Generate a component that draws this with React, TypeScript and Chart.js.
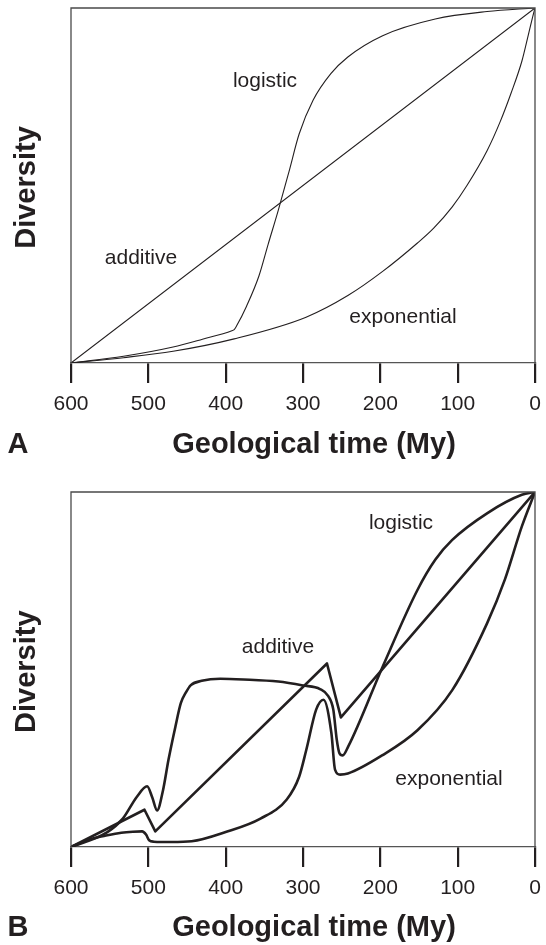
import React, { useEffect, useRef } from 'react';
import { Chart, registerables } from 'chart.js';

Chart.register(...registerables);

// ---------- data ----------
const TIME_TICKS = [600, 500, 400, 300, 200, 100, 0];

// Panel A
const A_ADDITIVE_TIME = [600, 0];
const A_ADDITIVE_DIV = [0, 1];

const A_LOGISTIC_TIME = [600, 532, 468, 430, 392, 389, 386, 373, 357, 345, 332, 318, 305, 287, 264, 242, 197, 129, 62, 0];
const A_LOGISTIC_DIV = [0, 0.019, 0.045, 0.067, 0.091, 0.094, 0.104, 0.16, 0.245, 0.335, 0.43, 0.54, 0.645, 0.74, 0.815, 0.862, 0.922, 0.969, 0.99, 1];

const A_EXPONENTIAL_TIME = [600, 532, 468, 389, 296, 242, 197, 152, 131, 107, 88, 62, 45, 31, 17, 8, 3, 0];
const A_EXPONENTIAL_DIV = [0, 0.015, 0.033, 0.068, 0.129, 0.19, 0.258, 0.338, 0.38, 0.44, 0.5, 0.598, 0.68, 0.76, 0.85, 0.93, 0.975, 1];

// Panel B
const B_ADDITIVE_TIME = [600, 505, 491, 269, 251, 0];
const B_ADDITIVE_DIV = [0, 0.105, 0.044, 0.517, 0.365, 1];

const B_LOGISTIC_TIME = [600, 553, 533, 515, 501.5, 495, 488.7, 481, 474, 465, 458, 451, 445, 431, 407, 377, 332, 300, 278, 267.3, 260.8, 256.4, 253, 248.7, 241.3, 197, 152, 129, 107, 62, 17, 0];
const B_LOGISTIC_DIV = [0, 0.042, 0.08, 0.141, 0.171, 0.14, 0.103, 0.16, 0.245, 0.339, 0.405, 0.437, 0.456, 0.468, 0.474, 0.472, 0.466, 0.455, 0.445, 0.425, 0.387, 0.303, 0.265, 0.258, 0.284, 0.508, 0.724, 0.809, 0.865, 0.94, 0.992, 1];

const B_EXPONENTIAL_TIME = [600, 575, 553, 535, 520, 508, 503, 499, 493, 470, 444, 400, 355, 321, 305, 295.7, 283, 273.5, 263.3, 258.6, 252, 242, 197, 152, 107, 62, 39, 17, 0];
const B_EXPONENTIAL_DIV = [0, 0.022, 0.033, 0.04, 0.043, 0.044, 0.035, 0.019, 0.015, 0.014, 0.016, 0.042, 0.08, 0.134, 0.198, 0.274, 0.387, 0.415, 0.321, 0.218, 0.204, 0.207, 0.259, 0.329, 0.442, 0.63, 0.753, 0.903, 1];

const SERIES_NAMES = ['additive', 'logistic', 'exponential'];

// ---------- styling ----------
const DARK = '#231f20';
const FAMILY = "'Liberation Sans', Arial, Helvetica, sans-serif";

const pts = (xs: number[], ys: number[]) => xs.map((x, i) => ({ x, y: ys[i] }));

type TextItem = { text: string; x: number; y: number };

type PanelOpts = {
  height: number;
  top: number;
  bottom: number; // y of x axis inside canvas
  lineWidth: number;
  letter: string;
  titleBaseline: number;
  yTitleCenter: number;
  annotations: TextItem[];
};

function buildConfig(series: { x: number; y: number }[][], smooth: boolean[], o: PanelOpts): any {
  const framePlugin = {
    id: 'frameAndText',
    afterDraw(chart: any) {
      const { ctx, chartArea } = chart;
      const { left, right, top, bottom } = chartArea;
      ctx.save();
      // frame: left, top, right
      ctx.strokeStyle = '#4a4a4a';
      ctx.lineWidth = 1.3;
      ctx.beginPath();
      ctx.moveTo(left, bottom);
      ctx.lineTo(left, top);
      ctx.lineTo(right, top);
      ctx.lineTo(right, bottom);
      ctx.stroke();

      ctx.fillStyle = DARK;
      // curve annotations
      ctx.font = `21px ${FAMILY}`;
      ctx.textAlign = 'center';
      ctx.textBaseline = 'middle';
      o.annotations.forEach((a) => ctx.fillText(a.text, a.x, a.y));

      // axis titles
      ctx.font = `bold 29px ${FAMILY}`;
      ctx.textBaseline = 'alphabetic';
      ctx.textAlign = 'center';
      ctx.fillText('Geological time (My)', 314, o.titleBaseline);
      ctx.fillText(o.letter, 18, o.titleBaseline);

      ctx.translate(35, o.yTitleCenter);
      ctx.rotate(-Math.PI / 2);
      ctx.fillText('Diversity', 0, 0);
      ctx.restore();
    },
  };

  return {
    type: 'line',
    data: {
      datasets: series.map((data, i) => ({
        label: SERIES_NAMES[i],
        data,
        borderColor: DARK,
        borderWidth: o.lineWidth,
        pointRadius: 0,
        fill: false,
        tension: 0,
        cubicInterpolationMode: smooth[i] ? 'monotone' : 'default',
        borderJoinStyle: 'round',
        borderCapStyle: 'round',
      })),
    },
    options: {
      animation: false,
      responsive: false,
      maintainAspectRatio: false,
      devicePixelRatio: 1,
      layout: { padding: { left: 71, right: 11, top: o.top, bottom: 0 } },
      plugins: {
        legend: { display: false },
        tooltip: { enabled: false },
        title: { display: false },
      },
      scales: {
        x: {
          type: 'linear',
          reverse: true,
          min: 0,
          max: 600,
          afterBuildTicks: (s: any) => {
            s.ticks = TIME_TICKS.map((v) => ({ value: v }));
          },
          afterFit: (s: any) => {
            s.height = o.height - o.bottom;
            s.paddingLeft = 0;
            s.paddingRight = 0;
          },
          ticks: {
            autoSkip: false,
            maxRotation: 0,
            padding: 9,
            color: DARK,
            font: { family: FAMILY, size: 21 },
          },
          grid: {
            drawOnChartArea: false,
            drawTicks: true,
            tickLength: 20,
            lineWidth: 2.2,
            color: DARK,
          },
          border: { display: true, color: '#555555', width: 1.3 },
        },
        y: { display: false, min: 0, max: 1 },
      },
    },
    plugins: [framePlugin],
  };
}

function Panel(props: { series: { x: number; y: number }[][]; smooth: boolean[]; opts: PanelOpts; style: React.CSSProperties }) {
  const ref = useRef<HTMLCanvasElement | null>(null);
  useEffect(() => {
    if (!ref.current) return;
    const chart = new Chart(ref.current, buildConfig(props.series, props.smooth, props.opts));
    return () => chart.destroy();
  }, []);
  return <canvas ref={ref} width={546} height={props.opts.height} style={{ position: 'absolute', left: 0, width: 546, height: props.opts.height, display: 'block', ...props.style }} />;
}

export default function App() {
  const seriesA = [pts(A_ADDITIVE_TIME, A_ADDITIVE_DIV), pts(A_LOGISTIC_TIME, A_LOGISTIC_DIV), pts(A_EXPONENTIAL_TIME, A_EXPONENTIAL_DIV)];
  const seriesB = [pts(B_ADDITIVE_TIME, B_ADDITIVE_DIV), pts(B_LOGISTIC_TIME, B_LOGISTIC_DIV), pts(B_EXPONENTIAL_TIME, B_EXPONENTIAL_DIV)];

  const optsA: PanelOpts = {
    height: 470,
    top: 8,
    bottom: 363,
    lineWidth: 1.1,
    letter: 'A',
    titleBaseline: 453,
    yTitleCenter: 187.5,
    annotations: [
      { text: 'logistic', x: 265, y: 81 },
      { text: 'additive', x: 141, y: 258 },
      { text: 'exponential', x: 403, y: 317 },
    ],
  };
  const optsB: PanelOpts = {
    height: 475,
    top: 22,
    bottom: 377,
    lineWidth: 2.6,
    letter: 'B',
    titleBaseline: 466,
    yTitleCenter: 201.7,
    annotations: [
      { text: 'logistic', x: 401, y: 53 },
      { text: 'additive', x: 278, y: 177 },
      { text: 'exponential', x: 449, y: 309 },
    ],
  };

  return (
    <div style={{ position: 'absolute', left: 0, top: 0, width: 546, height: 945, background: '#fff' }}>
      <Panel series={seriesA} smooth={[false, true, true]} opts={optsA} style={{ top: 0 }} />
      <Panel series={seriesB} smooth={[false, true, true]} opts={optsB} style={{ top: 470 }} />
    </div>
  );
}
